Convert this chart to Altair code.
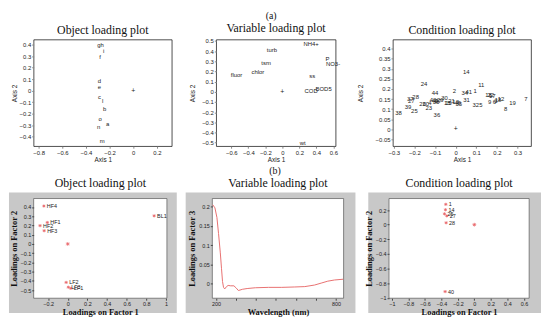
import altair as alt
import pandas as pd

SERIF = "Liberation Serif"
SANS = "Liberation Sans"

# ---------- (a) Object loading plot
a1_labels = ["g", "h", "i", "f", "d", "e", "c", "l", "b", "o", "a", "n", "m"]
a1_x = [-0.29, -0.263, -0.249, -0.28, -0.285, -0.285, -0.285, -0.258, -0.241, -0.28, -0.216, -0.293, -0.263]
a1_y = [0.395, 0.395, 0.345, 0.293, 0.080, 0.031, -0.052, -0.094, -0.16, -0.245, -0.286, -0.317, -0.439]

# ---------- (a) Variable loading plot
a2_labels = ["NH4+", "turb", "P", "NO3-", "tsm", "chlor", "fluor", "ss", "BOD5", "COD", "wt"]
a2_x = [0.338, -0.123, 0.531, 0.596, -0.192, -0.288, -0.538, 0.35, 0.485, 0.338, 0.238]
a2_y = [0.466, 0.409, 0.325, 0.269, 0.278, 0.194, 0.166, 0.15, 0.028, 0.006, -0.5]

# ---------- (a) Condition loading plot
a3_labels = ["14", "11", "24", "44", "2", "34", "41", "1", "30", "37", "28", "39", "38", "25", "36",
             "26", "20", "4", "23", "43", "42", "47", "33", "29", "10", "15", "13", "40", "35",
             "31", "32", "5", "9", "16", "22", "17", "6", "3", "18", "12", "8", "19", "7", "21", "27"]
a3_x = [0.051, 0.124, -0.153, -0.10, -0.006, 0.044, 0.064, 0.095, -0.054, -0.22, -0.194, -0.231, -0.277, -0.2, -0.091,
        -0.16, -0.145, -0.125, -0.13, -0.11, -0.10, -0.085, -0.095, -0.075, -0.035, -0.04, 0.0, 0.01, 0.015,
        0.053, 0.098, 0.122, 0.165, 0.16, 0.17, 0.178, 0.188, 0.195, 0.205, 0.22, 0.242, 0.276, 0.34, -0.02, -0.215]
a3_y = [0.283, 0.219, 0.224, 0.181, 0.188, 0.18, 0.183, 0.189, 0.156, 0.15, 0.158, 0.113, 0.081, 0.089, 0.072,
        0.125, 0.125, 0.13, 0.105, 0.143, 0.14, 0.14, 0.135, 0.143, 0.132, 0.13, 0.133, 0.13, 0.125,
        0.144, 0.122, 0.122, 0.133, 0.172, 0.17, 0.163, 0.133, 0.14, 0.147, 0.149, 0.103, 0.13, 0.15, 0.14, 0.142]

# ---------- (b) Object loading plot
b1_labels = ["HF4", "HF1", "HF2", "HF3", "BL1", "LF2", "LF3", "LF1"]
b1_x = [-0.243, -0.208, -0.282, -0.24, 0.88, -0.016, 0.006, 0.032]
b1_y = [0.41, 0.232, 0.198, 0.143, 0.304, -0.416, -0.468, -0.48]

# ---------- (b) Variable loading plot (loadings on factor 3 vs wavelength)
b2_wl = [184, 195, 205, 213, 222, 228, 233, 238, 244, 253, 261, 274, 290, 302, 312, 320, 332,
         356, 397, 463, 529, 594, 644, 693, 726, 759, 792, 836]
b2_val = [0.204, 0.196, 0.171, 0.13, 0.08, 0.039, 0.006, -0.009, -0.013, -0.007, -0.004, -0.005,
          -0.005, -0.011, -0.017, -0.016, -0.014, -0.012, -0.010, -0.009, -0.009, -0.008, -0.007,
          -0.003, 0.002, 0.007, 0.010, 0.012]

# ---------- (b) Condition loading plot
b3_labels = ["1", "14", "25", "27", "28", "40"]
b3_x = [-0.346, -0.35, -0.362, -0.334, -0.342, -0.354]
b3_y = [0.278, 0.204, 0.148, 0.12, 0.026, -0.913]

origin = pd.DataFrame({"x": [0.0], "y": [0.0]})

STAR = "M-1,0L1,0M0,-1L0,1M-0.7,-0.7L0.7,0.7M-0.7,0.7L0.7,-0.7"
RED = "#e0262b"
GRAY = "#c8c8c8"
INK = "#222222"


def top_axis(title, values, pad):
    return alt.Axis(values=values, tickCount=50, title=title, format=".2~f", grid=False, domain=False,
                    labelOverlap=False, labelFlush=False,
                    tickSize=2, labelFont=SANS, labelFontSize=6, labelPadding=1,
                    titleFont=SANS, titleFontSize=6.5, titleFontWeight="normal",
                    titlePadding=pad, labelColor=INK, titleColor=INK)


def top_panel(labels, xs, ys, xdom, ydom, xvals, yvals, w, h, title, ypad):
    df = pd.DataFrame({"label": labels, "x": xs, "y": ys})
    xs_ = alt.Scale(domain=xdom, nice=False, zero=False)
    ys_ = alt.Scale(domain=ydom, nice=False, zero=False)
    txt = alt.Chart(df).mark_text(font=SANS, fontSize=6, fill=INK, color=INK).encode(
        x=alt.X("x:Q", scale=xs_, axis=top_axis("Axis 1", xvals, 1)),
        y=alt.Y("y:Q", scale=ys_, axis=top_axis("Axis 2", yvals, ypad)),
        text="label:N",
    )
    org = alt.Chart(origin).mark_text(text="+", font=SANS, fontSize=7, fill=INK, color=INK).encode(
        x="x:Q", y="y:Q")
    return alt.layer(txt, org).properties(
        width=w, height=h,
        title=alt.TitleParams(title, font=SERIF, fontSize=12, fontWeight="normal",
                              anchor="middle", frame="group", offset=3, color="#111"))


def bot_axis(title, values, pad, expr=None):
    kw = dict(values=values, tickCount=50, title=title, format=".2~f", grid=False, domain=False, zindex=1,
              labelOverlap=False, labelFlush=False,
              tickSize=2, labelFont=SANS, labelFontSize=5.5, labelPadding=1,
              titleFont=SERIF, titleFontSize=8.5, titleFontWeight="bold",
              titlePadding=pad, labelColor=INK, titleColor="#111", tickColor="#444")
    if expr is not None:
        kw["labelExpr"] = expr
    return alt.Axis(**kw)


def frame_layers(w, h, l, r, t, b):
    bg = alt.Chart(origin).mark_rect(color=GRAY).encode(
        x=alt.value(-l), x2=alt.value(w + r), y=alt.value(-t), y2=alt.value(h + b))
    wh = alt.Chart(origin).mark_rect(fill="white", stroke="#555", strokeWidth=0.7).encode(
        x=alt.value(0), x2=alt.value(w), y=alt.value(0), y2=alt.value(h))
    return [bg, wh]


def bot_title(t):
    return alt.TitleParams(t, font=SERIF, fontSize=12, fontWeight="normal",
                           anchor="middle", frame="group", offset=3, color="#111")


def bot_scatter(labels, xs, ys, xdom, ydom, xvals, yvals, w, h, title, ext):
    df = pd.DataFrame({"label": labels, "x": xs, "y": ys})
    xs_ = alt.Scale(domain=xdom, nice=False, zero=False)
    ys_ = alt.Scale(domain=ydom, nice=False, zero=False)
    pts = alt.Chart(df).mark_point(shape=STAR, size=10, color=RED, strokeWidth=0.8).encode(
        x=alt.X("x:Q", scale=xs_, axis=bot_axis("Loadings on Factor 1", xvals, 1)),
        y=alt.Y("y:Q", scale=ys_, axis=bot_axis("Loadings on Factor 2", yvals, 2)),
    )
    lab = alt.Chart(df).mark_text(font=SANS, fontSize=5.5, fill=INK, color=INK,
                                  align="left", dx=3).encode(
        x="x:Q", y="y:Q", text="label:N")
    org = alt.Chart(origin).mark_point(shape=STAR, size=14, color=RED, strokeWidth=0.8).encode(
        x="x:Q", y="y:Q")
    layers = frame_layers(w, h, *ext) + [pts, lab, org]
    return alt.layer(*layers).properties(width=w, height=h, title=bot_title(title))


p1 = top_panel(a1_labels, a1_x, a1_y, [-0.842, 0.327], [-0.483, 0.444],
               [-0.8, -0.6, -0.4, -0.2, 0, 0.2], [-0.4, -0.3, -0.2, -0.1, 0, 0.1, 0.2, 0.3, 0.4],
               140, 108, "Object loading plot", 2)
p2 = top_panel(a2_labels, a2_x, a2_y, [-0.777, 0.627], [-0.534, 0.512],
               [-0.6, -0.4, -0.2, 0, 0.2, 0.4, 0.6], [-0.5, -0.4, -0.3, -0.2, -0.1, 0, 0.1, 0.2, 0.3, 0.4, 0.5],
               121, 108, "Variable loading plot", 6)
p3 = top_panel(a3_labels, a3_x, a3_y, [-0.304, 0.366], [-0.084, 0.445],
               [-0.3, -0.2, -0.1, 0, 0.1, 0.2, 0.3],
               [-0.05, 0, 0.05, 0.1, 0.15, 0.2, 0.25, 0.3, 0.35, 0.4],
               140, 108, "Condition loading plot", 12)

p4 = bot_scatter(b1_labels, b1_x, b1_y, [-0.347, 1.01], [-0.587, 0.491],
                 [-0.2, 0, 0.2, 0.4, 0.6, 0.8, 1],
                 [-0.5, -0.4, -0.3, -0.2, -0.1, 0, 0.1, 0.2, 0.3, 0.4],
                 135, 101, "Object loading plot", (25, 10, 6, 15))

df5 = pd.DataFrame({"wl": b2_wl, "v": b2_val})
w5, h5 = 133, 101
line5 = alt.Chart(df5).mark_line(color="#e87070", strokeWidth=1).encode(
    x=alt.X("wl:Q", scale=alt.Scale(domain=[182, 838], nice=False, zero=False),
            axis=bot_axis("Wavelength (nm)", [200, 300, 400, 500, 600, 700, 800], 1,
                          expr="datum.value == 200 || datum.value == 800 ? datum.label : ''")),
    y=alt.Y("v:Q", scale=alt.Scale(domain=[-0.037, 0.22], nice=False, zero=False),
            axis=bot_axis("Loadings on Factor 3", [0, 0.05, 0.1, 0.15, 0.2], 2)),
)
p5 = alt.layer(*(frame_layers(w5, h5, 27, 12, 6, 15) + [line5])).properties(
    width=w5, height=h5, title=bot_title("Variable loading plot"))

p6 = bot_scatter(b3_labels, b3_x, b3_y, [-1.034, 0.664], [-1.004, 0.357],
                 [-1, -0.8, -0.6, -0.4, -0.2, 0, 0.2, 0.4, 0.6],
                 [-1, -0.8, -0.6, -0.4, -0.2, 0, 0.2],
                 142, 101, "Condition loading plot", (21, 12, 6, 15))

top = alt.hconcat(p1, p2, p3, spacing=16,
                  title=alt.TitleParams("(a)", font=SERIF, fontSize=10, fontWeight="normal",
                                        anchor="middle", offset=1, color="#111"))
bottom = alt.hconcat(p4, p5, p6, spacing=7,
                     title=alt.TitleParams("(b)", font=SERIF, fontSize=10, fontWeight="normal",
                                           anchor="middle", offset=1, color="#111"))

chart = alt.vconcat(top, bottom, spacing=2).properties(
    padding={"left": 0, "top": 0, "right": 0, "bottom": 0}, background="white"
).configure_view(stroke="#000", strokeWidth=0.7)

chart.save("out.html", embed_options={"renderer": "svg", "actions": False})
